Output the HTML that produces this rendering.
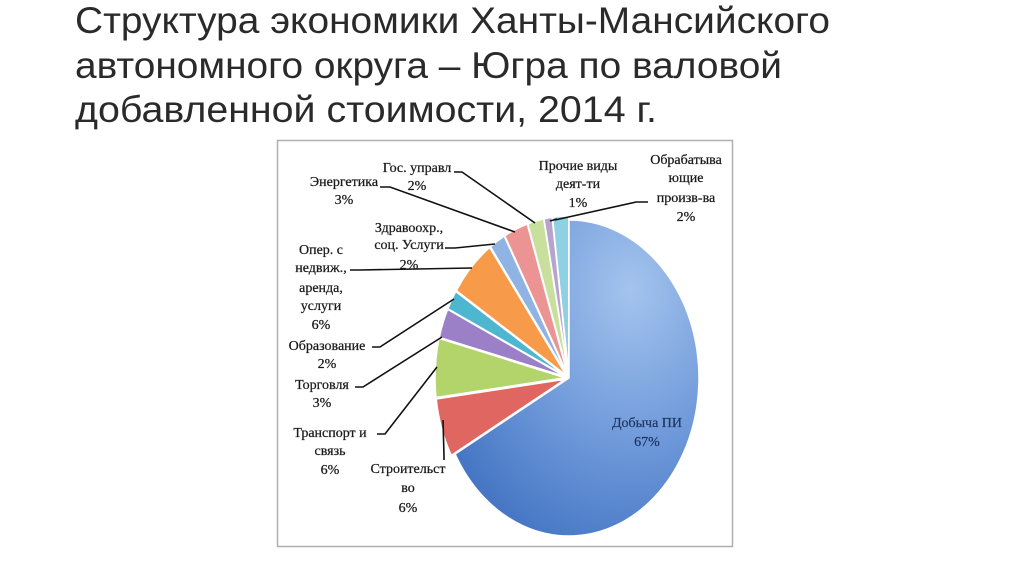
<!DOCTYPE html>
<html><head><meta charset="utf-8"><style>
html,body{margin:0;padding:0;background:#fff;}
svg{display:block;}
.t{font-family:"Liberation Sans Narrow","Liberation Sans",sans-serif;font-size:37px;fill:#2a2a2a;}
.l{font-family:"Liberation Serif",serif;font-size:14px;fill:#1a1a1a;stroke:#1a1a1a;stroke-width:0.25;text-anchor:middle;}
.ln{stroke:#111;stroke-width:1.6;fill:none;}
</style></head><body>
<svg width="1024" height="574" viewBox="0 0 1024 574" xmlns="http://www.w3.org/2000/svg">
<defs>
<radialGradient id="gb" cx="0.72" cy="0.22" r="0.95"><stop offset="0" stop-color="#a4c4ee"/><stop offset="0.55" stop-color="#6b96d8"/><stop offset="1" stop-color="#3f70c0"/></radialGradient>
</defs>
<text class="t" x="75" y="33" textLength="755" lengthAdjust="spacingAndGlyphs">Структура экономики Ханты-Мансийского</text>
<text class="t" x="75" y="78" textLength="707" lengthAdjust="spacingAndGlyphs">автономного округа – Югра по валовой</text>
<text class="t" x="75" y="122" textLength="582" lengthAdjust="spacingAndGlyphs">добавленной стоимости, 2014 г.</text>
<rect x="277.5" y="140.5" width="455" height="406" fill="#fff" stroke="#b0b0b0" stroke-width="1.5"/>
<g id="pie" stroke="#fff" stroke-width="1.5"></g>
<g class="ln">
<polyline points="454,172 462,172 535,223"/>
<polyline points="380,187 390,187 515,232"/>
<polyline points="550,221 557,219"/>
<polyline points="648,202 636,202 555,220"/>
<polyline points="445,248 455,248 495,244"/>
<polyline points="350,270 360,270 472,268"/>
<polyline points="372,347 380,347 454,299"/>
<polyline points="355,387 363,387 442,337"/>
<polyline points="377,434 385,434 437,367"/>
<polyline points="444,460 444,456 443,420"/>
</g>
<text class="l"><tspan x="417" y="172">Гос. управл</tspan><tspan x="417" y="190">2%</tspan></text>
<text class="l"><tspan x="344" y="186">Энергетика</tspan><tspan x="344" y="204">3%</tspan></text>
<text class="l"><tspan x="578" y="170">Прочие виды</tspan><tspan x="578" y="188">деят-ти</tspan><tspan x="578" y="207">1%</tspan></text>
<text class="l"><tspan x="686" y="164">Обрабатыва</tspan><tspan x="686" y="182">ющие</tspan><tspan x="686" y="202">произв-ва</tspan><tspan x="686" y="221">2%</tspan></text>
<text class="l"><tspan x="409" y="232">Здравоохр.,</tspan><tspan x="409" y="249">соц. Услуги</tspan><tspan x="409" y="269">2%</tspan></text>
<text class="l"><tspan x="321" y="254">Опер. с</tspan><tspan x="321" y="272">недвиж.,</tspan><tspan x="321" y="292">аренда,</tspan><tspan x="321" y="310">услуги</tspan><tspan x="321" y="329">6%</tspan></text>
<text class="l"><tspan x="327" y="350">Образование</tspan><tspan x="327" y="368">2%</tspan></text>
<text class="l"><tspan x="322" y="389">Торговля</tspan><tspan x="322" y="407">3%</tspan></text>
<text class="l"><tspan x="330" y="437">Транспорт и</tspan><tspan x="330" y="455">связь</tspan><tspan x="330" y="474">6%</tspan></text>
<text class="l"><tspan x="408" y="473">Строительст</tspan><tspan x="408" y="492">во</tspan><tspan x="408" y="512">6%</tspan></text>
<text class="l" style="fill:#1f3864;stroke:#1f3864"><tspan x="647" y="427">Добыча ПИ</tspan><tspan x="647" y="446">67%</tspan></text>
</svg>
<script>
var cx=569,cy=378,rx=130,ry=158;
var d=[[67,'url(#gb)'],[6,'#e06662'],[6,'#b3d46a'],[3,'#9b80c8'],[2,'#4fb6cf'],[6,'#f79a4a'],[2,'#8fb4e4'],[3,'#ec9494'],[2,'#c9df9c'],[1,'#b6a4cc'],[2,'#8fd0e2']];
var a=0,g=document.getElementById('pie'),h='';
function p(t){return [cx+rx*Math.sin(t),cy-ry*Math.cos(t)];}
d.forEach(function(s,i){var a0=a*2*Math.PI/100,a1=(a+s[0])*2*Math.PI/100;a+=s[0];
var m=(a0+a1)/2,off=i==0?0:4,ox=off*Math.sin(m),oy=-off*Math.cos(m);
var P0=p(a0),P1=p(a1);
h+='<path transform="translate('+ox+','+oy+')" d="M'+cx+','+cy+' L'+P0[0]+','+P0[1]+' A'+rx+','+ry+' 0 '+((a1-a0)>Math.PI?1:0)+' 1 '+P1[0]+','+P1[1]+' Z" fill="'+s[1]+'"/>';});
g.innerHTML=h;
</script>
</body></html>
